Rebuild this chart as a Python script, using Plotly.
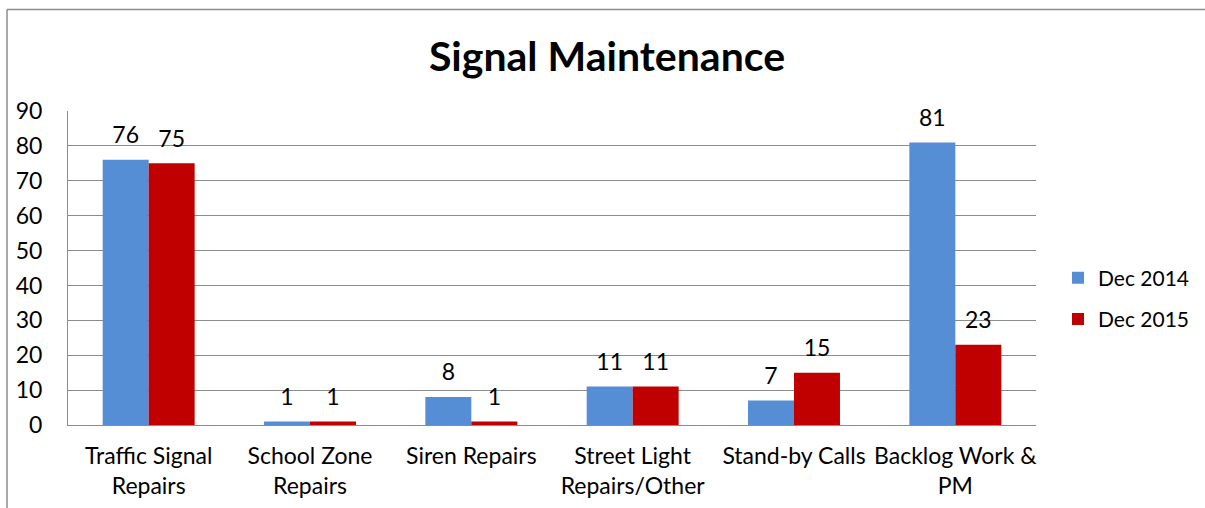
import plotly.graph_objects as go

categories = ["Traffic Signal<br>Repairs", "School Zone<br>Repairs", "Siren Repairs",
              "Street Light<br>Repairs/Other", "Stand-by Calls", "Backlog Work &<br>PM"]
dec_2014 = [76, 1, 8, 11, 7, 81]
dec_2015 = [75, 1, 1, 11, 15, 23]
series_names = ["Dec 2014", "Dec 2015"]
series_colors = ["#558ED5", "#C00000"]
y_ticks = list(range(0, 91, 10))

W, H = 1205, 508
L, R, T, B = 68, 1036, 111, 425
FONT = "Lato"

fig = go.Figure()
for name, vals, col in zip(series_names, [dec_2014, dec_2015], series_colors):
    fig.add_trace(go.Bar(x=categories, y=vals, name=name, marker_color=col,
                         marker_line_width=0, offsetgroup=name, legendgroup=name))
for name, vals in zip(series_names, [dec_2014, dec_2015]):
    fig.add_trace(go.Scatter(x=categories, y=vals, mode="markers+text", text=[str(v) for v in vals],
                             textposition="top center", marker=dict(size=16, opacity=0),
                             textfont=dict(family=FONT, size=23, color="#000"),
                             offsetgroup=name, showlegend=False, hoverinfo="skip", cliponaxis=False))

pw, ph = R - L, B - T
def px(x):
    return (x - L) / pw
def py(y):
    return (B - y) / ph

line = dict(color="#8c8c8c", width=1.5)
fig.add_shape(type="line", xref="paper", yref="paper", x0=px(7), x1=px(7), y0=py(H), y1=py(9.5), line=line)
fig.add_shape(type="line", xref="paper", yref="paper", x0=px(7), x1=px(W), y0=py(9.5), y1=py(9.5), line=line)

fig.update_layout(
    width=W, height=H,
    margin=dict(l=L, r=W - R, t=T, b=H - B, autoexpand=False),
    paper_bgcolor="white", plot_bgcolor="white",
    font=dict(family=FONT, size=23, color="#000"),
    title=dict(text="<b>Signal Maintenance</b>", font=dict(family=FONT, size=41, color="#000"),
               xref="container", x=607 / W, xanchor="center", yref="container", y=1 - 57 / H, yanchor="middle"),
    barmode="group", bargap=0.43, scattermode="group", scattergap=0.43,
    legend=dict(x=px(1058), xanchor="left", y=py(298.5), yanchor="middle",
                tracegroupgap=11, font=dict(family=FONT, size=21)),
    showlegend=True,
)
fig.update_yaxes(range=[0, 90], tickvals=y_ticks, showgrid=True, gridcolor="#8c8c8c", gridwidth=1,
                 showline=True, linecolor="#8c8c8c", linewidth=1, zeroline=False,
                 ticks="", ticklabelstandoff=20, fixedrange=True, automargin=False)
fig.update_xaxes(showline=True, linecolor="#8c8c8c", linewidth=1, ticks="", ticklabelstandoff=10,
                 tickangle=0, fixedrange=True, automargin=False)

fig.write_html("out.html", config={"displayModeBar": False},
               post_script="document.documentElement.style.overflow='hidden';"
                           "document.body.style.margin='0';document.body.style.overflow='hidden';")
